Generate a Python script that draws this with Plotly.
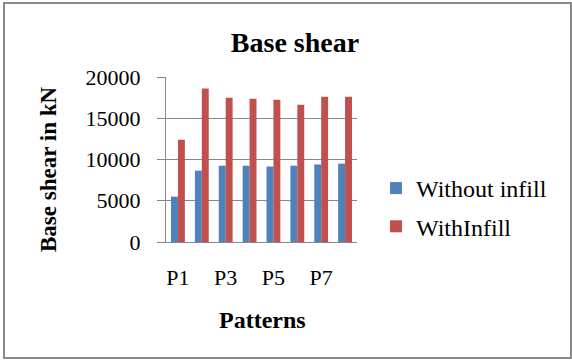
import plotly.graph_objects as go

# Base shear per load pattern, in kN
patterns = ["P1", "P2", "P3", "P4", "P5", "P6", "P7", "P8"]
without_infill = [5500, 8650, 9250, 9250, 9150, 9250, 9400, 9500]
with_infill = [12400, 18600, 17500, 17350, 17250, 16650, 17600, 17600]
y_ticks = [0, 5000, 10000, 15000, 20000]
y_tick_text = ["0", "5000", "10000", "15000", "20000"]
x_ticks = ["P1", "P3", "P5", "P7"]

W, H = 572, 360
ML, MR, MT, MB = 166, 215, 77, 118
PW, PH = W - ML - MR, H - MT - MB

SERIF = "Liberation Serif, Times New Roman, serif"
GRID = "#878787"


def px_x(x):
    return (x - ML) / PW


def px_y(y):
    return (H - MB - y) / PH


fig = go.Figure()
fig.add_trace(go.Bar(x=patterns, y=without_infill, name="Without infill",
                     marker=dict(color="#4F81BD", line=dict(width=0)),
                     legendgroup="a"))
fig.add_trace(go.Bar(x=patterns, y=with_infill, name="WithInfill",
                     marker=dict(color="#C0504D", line=dict(width=0)),
                     legendgroup="b"))

fig.update_layout(
    width=W, height=H,
    margin=dict(l=ML, r=MR, t=MT, b=MB, pad=0),
    paper_bgcolor="white", plot_bgcolor="white",
    barmode="group", bargap=0.42, bargroupgap=0,
    font=dict(family=SERIF, color="black", size=22),
    title=dict(text="<b>Base shear</b>", x=295 / W, xref="container",
               xanchor="center", y=1 - 42 / H, yref="container",
               yanchor="middle", font=dict(size=28, family=SERIF)),
    legend=dict(x=px_x(376), xanchor="left", y=px_y(166), yanchor="top",
                font=dict(size=24, family=SERIF), traceorder="grouped",
                tracegroupgap=4, bgcolor="rgba(0,0,0,0)"),
    showlegend=True,
)

fig.update_xaxes(
    type="category", tickvals=x_ticks, ticktext=x_ticks,
    showgrid=False, showline=True, linecolor=GRID, linewidth=1,
    ticks="", ticklabelstandoff=16, tickfont=dict(size=22),
)
fig.update_yaxes(
    range=[0, 20000], tickvals=y_ticks, ticktext=y_tick_text,
    showgrid=True, gridcolor=GRID, gridwidth=1, showline=True,
    linecolor=GRID, linewidth=1, ticks="outside", ticklen=8,
    tickcolor=GRID, ticklabelstandoff=12, zeroline=False,
    tickfont=dict(size=22),
)

fig.add_annotation(text="<b>Base shear in kN</b>", textangle=-90,
                   xref="paper", yref="paper", x=px_x(48), y=px_y(170),
                   xanchor="center", yanchor="middle", showarrow=False,
                   font=dict(size=23, family=SERIF))
fig.add_annotation(text="<b>Patterns</b>", xref="paper", yref="paper",
                   x=px_x(262), y=px_y(320), xanchor="center",
                   yanchor="middle", showarrow=False,
                   font=dict(size=24, family=SERIF))

# outer frame of the chart
fig.add_shape(type="rect", xref="paper", yref="paper",
              x0=px_x(4), x1=px_x(571), y0=px_y(358), y1=px_y(3),
              line=dict(color="#8A8A8A", width=2), layer="below")

fig.write_html("out.html")
